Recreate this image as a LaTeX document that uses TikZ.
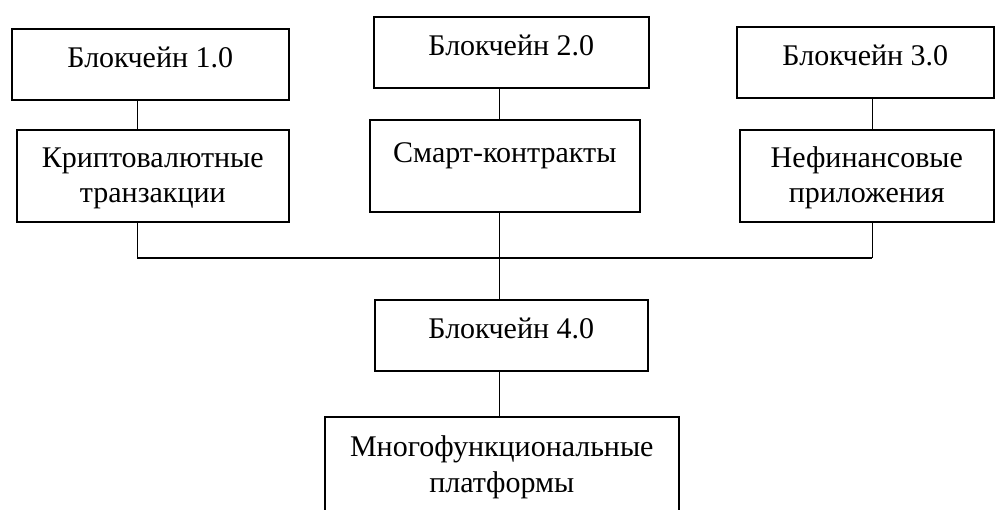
\documentclass[tikz,border=0pt]{standalone}
\usepackage{fontspec}
\setmainfont{Liberation Serif}
\usepackage{tikz}

\tikzset{
  block/.style={draw, line width=1.6pt, anchor=north west, align=center,
    inner xsep=0pt, inner ysep=0pt, font=\fontsize{30}{35}\selectfont},
  link/.style={line width=1pt},
  bus/.style={line width=2pt}
}

\begin{document}
\begin{tikzpicture}[x=1pt, y=-1pt]
    \useasboundingbox (0,0) rectangle (995,509);
    \clip (0,0) rectangle (995,509);

    \node[block, minimum width=277pt, text height=39pt, text depth=32pt] (bc1) at (11,28) {Блокчейн 1.0};
    \node[block, minimum width=272pt, text height=73pt, text depth=19pt] (crypto) at (16,129) {Криптовалютные\\транзакции};
    \node[block, minimum width=275pt, text height=39pt, text depth=32pt] (bc2) at (373,16) {Блокчейн 2.0};
    \node[block, minimum width=270pt, text height=43pt, text depth=49pt] (smart) at (369,119) {Смарт-контракты};
    \node[block, minimum width=257pt, text height=39pt, text depth=32pt] (bc3) at (736,26) {Блокчейн 3.0};
    \node[block, minimum width=254pt, text height=73pt, text depth=19pt] (nonfin) at (739,129) {Нефинансовые\\приложения};
    \node[block, minimum width=273pt, text height=39pt, text depth=32pt] (bc4) at (374,299) {Блокчейн 4.0};
    \node[block, minimum width=354pt, text height=76pt, text depth=30pt] (multi) at (324,416) {Многофункциональные\\[1pt]платформы};

    \coordinate (j1) at (137,258);
    \coordinate (j2) at (499,258);
    \coordinate (j3) at (872,258);

    \draw[link] (bc1.south -| j1) -- (crypto.north -| j1);
    \draw[link] (bc2.south -| j2) -- (smart.north -| j2);
    \draw[link] (bc3.south -| j3) -- (nonfin.north -| j3);
    \draw[link] (crypto.south -| j1) -- (j1);
    \draw[link] (smart.south -| j2) -- (j2);
    \draw[link] (nonfin.south -| j3) -- (j3);
    \draw[bus] (j1) -- (j3);
    \draw[link] (j2) -- (bc4.north -| j2);
    \draw[link] (bc4.south -| j2) -- (multi.north -| j2);
  \end{tikzpicture}
\end{document}
